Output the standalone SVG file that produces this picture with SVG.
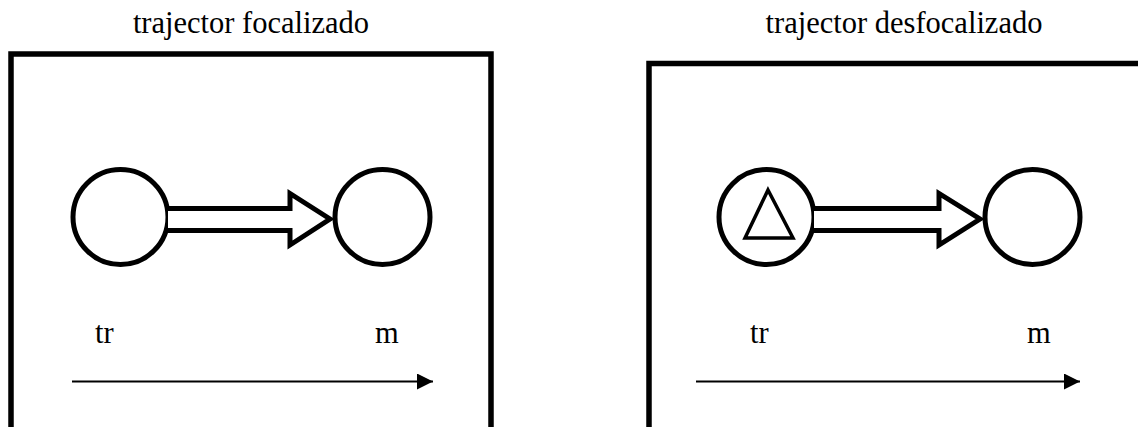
<svg xmlns="http://www.w3.org/2000/svg" width="1138" height="427" viewBox="0 0 1138 427">
  <style>
    .frame { fill: none; stroke: #000; stroke-width: 5.5; }
    .node { fill: #fff; stroke: #000; stroke-width: 5; }
    .block { fill: #fff; stroke: #000; stroke-width: 5; stroke-linejoin: miter; }
    .mark { fill: #fff; stroke: #000; stroke-width: 3.5; stroke-linejoin: miter; }
    .axis { fill: none; stroke: #000; stroke-width: 2; }
    .label { font-family: "Liberation Serif", "Times New Roman", serif; font-size: 30.5px; fill: #000; }
  </style>
  <defs>
    <marker id="axisHead" markerUnits="userSpaceOnUse" markerWidth="18" markerHeight="16" refX="16" refY="8" orient="auto">
      <path d="M0,0 L16,8 L0,16 Z" fill="#000"/>
    </marker>
  </defs>
  <rect width="1138" height="427" fill="#fff"/>

  <!-- left panel: focused trajector -->
  <g id="panel-focalizado">
    <text class="label" x="251" y="33" text-anchor="middle">trajector focalizado</text>
    <path class="frame" d="M11,430 V54 H491 V430"/>
  </g>
  <g id="tr-left">
    <circle class="node" cx="120.5" cy="217" r="47.5"/>
    <text class="label" x="95" y="343">tr</text>
  </g>
  <g id="m-left">
    <circle class="node" cx="382.5" cy="217" r="47.5"/>
    <text class="label" x="375" y="343">m</text>
  </g>

  <!-- right panel: defocused trajector -->
  <g id="panel-desfocalizado">
    <text class="label" x="904" y="33" text-anchor="middle">trajector desfocalizado</text>
    <path class="frame" d="M649,430 V63.5 H1145"/>
  </g>
  <g id="tr-right">
    <circle class="node" cx="766.5" cy="217" r="47.5"/>
    <path class="mark" d="M768,190 L793,238 L745,238 Z"/>
    <text class="label" x="750" y="343">tr</text>
  </g>
  <g id="m-right">
    <circle class="node" cx="1032.5" cy="217" r="47.5"/>
    <text class="label" x="1027" y="343">m</text>
  </g>

  <!-- connectors -->
  <g id="connectors">
    <path class="block" d="M168,208.5 H290 V193.5 L330,219 L290,245 V230.5 H168"/>
    <path class="block" d="M814,208.5 H939 V193.5 L980,219 L939,245 V230.5 H814"/>
    <line class="axis" x1="72" y1="381.5" x2="433" y2="381.5" marker-end="url(#axisHead)"/>
    <line class="axis" x1="696" y1="381.5" x2="1080" y2="381.5" marker-end="url(#axisHead)"/>
  </g>
</svg>
